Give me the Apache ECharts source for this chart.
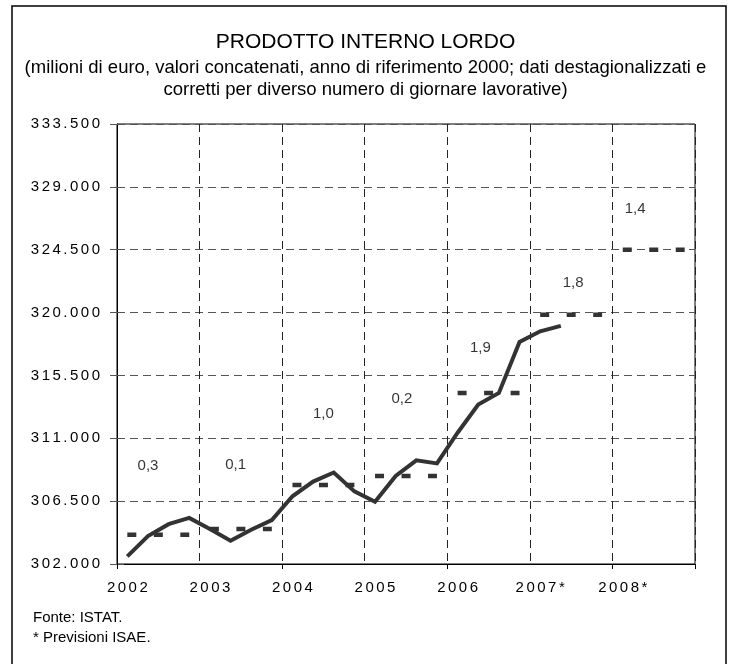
<!DOCTYPE html>
<html>
<head>
<meta charset="utf-8">
<title>Prodotto interno lordo</title>
<script src="https://cdn.jsdelivr.net/npm/echarts@6/dist/echarts.min.js"></script>
<style>
  html, body { margin: 0; padding: 0; background: #fff; }
  #chart { width: 731px; height: 664px; }
</style>
</head>
<body>
<div id="chart"></div>
<script>
// anni (2007 e 2008 sono previsioni)
const years = ["2002", "2003", "2004", "2005", "2006", "2007*", "2008*"];
// PIL trimestrale, milioni di euro (2002 T1 - 2007 T2)
const gdpQuarterly = [
  302550, 304000, 304850, 305300,
  304500, 303670, 304450, 305150,
  306850, 307900, 308550, 307200,
  306450, 308300, 309420, 309200,
  311400, 313410, 314250, 317900,
  318660, 319050
];
// livello medio annuo
const gdpAnnual = [304100, 304500, 307650, 308300, 314250, 319850, 324500];
// variazione % annua
const growth = ["0,3", "0,1", "1,0", "0,2", "1,9", "1,8", "1,4"];
// etichette asse y
const yTicks = [302000, 306500, 311000, 315500, 320000, 324500, 329000, 333500];

// where the growth numbers sit (quarter units on x, value on y)
const growthLabelAt = [
  [1.5, 309000], [5.75, 309100], [10, 312750], [13.8, 313800],
  [17.6, 317500], [22.1, 322150], [25.1, 327400]
];

const font = "Liberation Sans, Arial, sans-serif";
const yBase = yTicks[0];
const yStep = yTicks[1] - yTicks[0];
const yTop = yTicks[yTicks.length - 1] - yBase;

const quarters = [];
years.forEach(y => ["T1", "T2", "T3", "T4"].forEach(q => quarters.push(y + " " + q)));

// the axis labels in the original are a bit letter-spaced
const spaced = s => s.split("").join("\u2006");
const thousands = v => String(v).replace(/\B(?=(\d{3})+(?!\d))/g, ".");

const annualSeries = years.map((y, i) => ({
  type: "line",
  data: quarters.map((q, k) => (Math.floor(k / 4) === i ? gdpAnnual[i] - yBase : "-")),
  symbol: "none",
  lineStyle: { color: "#333", width: 4.5, type: [9, 17.5], cap: "butt" },
  z: 3
}));

const chart = echarts.init(document.getElementById("chart"));

chart.setOption({
  animation: false,
  backgroundColor: "#fff",
  title: {
    text: "PRODOTTO INTERNO LORDO",
    subtext: "(milioni di euro, valori concatenati, anno di riferimento 2000; dati destagionalizzati e\ncorretti per diverso numero di giornare lavorative)",
    left: "center",
    top: 27,
    itemGap: 4,
    textStyle: { fontFamily: font, fontSize: 21, fontWeight: "normal", color: "#000" },
    subtextStyle: { fontFamily: font, fontSize: 18.5, color: "#000", lineHeight: 22, align: "center" }
  },
  graphic: [
    {
      type: "rect",
      shape: { x: 12, y: 6, width: 714, height: 700 },
      style: { fill: null, stroke: "#000", lineWidth: 1.5 },
      silent: true
    },
    {
      type: "text",
      left: 33,
      top: 608,
      style: { text: "Fonte: ISTAT.\n* Previsioni ISAE.", font: "15px " + font, fill: "#000", lineHeight: 20 }
    }
  ],
  grid: {
    left: 117, right: 36, top: 124, bottom: 100,
    show: true, borderColor: "#000", borderWidth: 1, backgroundColor: "#fff"
  },
  xAxis: [
    {
      type: "category",
      data: quarters,
      boundaryGap: true,
      axisLine: { lineStyle: { color: "#000", width: 1 } },
      axisTick: { show: true, interval: i => i % 8 === 0, length: 5, lineStyle: { color: "#000" } },
      axisLabel: {
        interval: i => i % 4 === 0,
        formatter: v => spaced(v.split(" ")[0]),
        margin: 16,
        fontFamily: font, fontSize: 15, color: "#000"
      },
      splitLine: {
        show: true,
        interval: i => i % 4 === 0,
        lineStyle: { color: "#222", type: [8, 5], width: 1 }
      }
    },
    { type: "value", min: 0, max: quarters.length, show: false }
  ],
  yAxis: [
    {
      type: "value",
      min: 0,
      max: yTop,
      interval: yStep,
      axisLine: { show: true, lineStyle: { color: "#000", width: 1 } },
      axisTick: { show: true, length: 7, lineStyle: { color: "#555" } },
      axisLabel: {
        formatter: v => spaced(thousands(v + yBase)),
        margin: 17,
        fontFamily: font, fontSize: 15, color: "#000"
      },
      splitLine: { show: true, lineStyle: { color: "#555", type: [8, 5], width: 1 } }
    },
    {
      type: "value",
      min: 0,
      max: yTop,
      interval: yStep,
      position: "left",
      axisLine: { show: false },
      axisTick: { show: true, inside: true, length: 7, lineStyle: { color: "#555" } },
      axisLabel: { show: false },
      splitLine: { show: false }
    }
  ],
  series: [
    {
      type: "line",
      data: gdpQuarterly.map(v => v - yBase),
      symbol: "none",
      lineStyle: { color: "#333", width: 4, join: "miter" },
      z: 4
    },
    ...annualSeries,
    {
      type: "scatter",
      xAxisIndex: 1,
      data: growth.map((g, i) => ({ name: g, value: [growthLabelAt[i][0], growthLabelAt[i][1] - yBase] })),
      symbolSize: 1,
      itemStyle: { color: "rgba(0,0,0,0)" },
      label: {
        show: true,
        position: "inside",
        formatter: p => p.name,
        fontFamily: font, fontSize: 15, color: "#000"
      },
      z: 5
    }
  ]
});
</script>
</body>
</html>
